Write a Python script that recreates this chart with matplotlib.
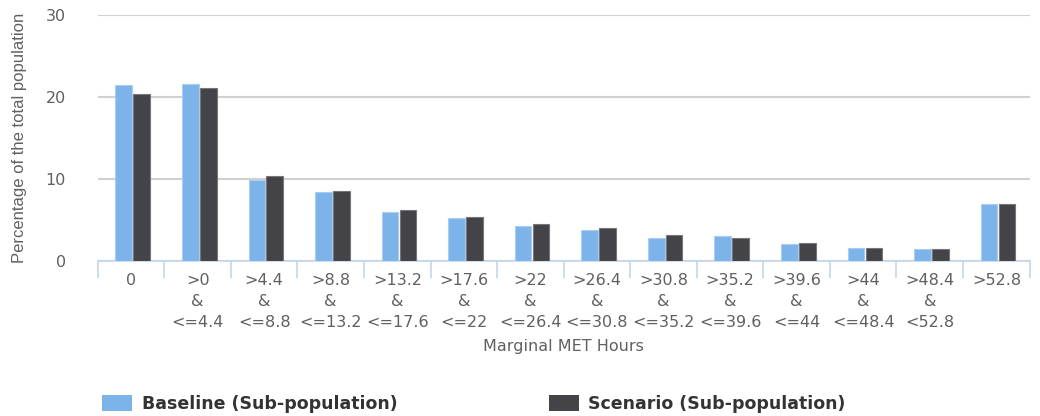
import numpy as np
import matplotlib.pyplot as plt
from matplotlib.patches import Patch

plt.rcParams['font.family'] = ['DejaVu Sans']

categories = ['0', '>0\n&\n<=4.4', '>4.4\n&\n<=8.8', '>8.8\n&\n<=13.2', '>13.2\n&\n<=17.6',
              '>17.6\n&\n<=22', '>22\n&\n<=26.4', '>26.4\n&\n<=30.8', '>30.8\n&\n<=35.2',
              '>35.2\n&\n<=39.6', '>39.6\n&\n<=44', '>44\n&\n<=48.4', '>48.4\n&\n<52.8', '>52.8']
baseline = [21.4, 21.6, 9.9, 8.4, 5.9, 5.2, 4.3, 3.8, 2.8, 3.0, 2.1, 1.6, 1.5, 6.9]
scenario = [20.4, 21.1, 10.3, 8.5, 6.2, 5.3, 4.5, 4.0, 3.1, 2.8, 2.2, 1.6, 1.5, 6.9]
yticks = [0, 10, 20, 30]

blue = '#7cb4ea'
dark = '#434348'
text_col = '#606060'

fig = plt.figure(figsize=(10.4, 4.16), dpi=100)
ax = fig.add_axes([0.094, 0.373, 0.896, 0.591])

x = np.arange(len(categories))
w = 0.25
ax.bar(x - 0.11, baseline, w, color=blue, edgecolor='#a9cdf2', linewidth=0.8, zorder=3)
ax.bar(x + 0.16, scenario, w, color=dark, edgecolor='#77777b', linewidth=0.8, zorder=3)

ax.set_xlim(-0.5, len(categories) - 0.5)
ax.set_ylim(0, 30)
ax.set_yticks(yticks)
ax.yaxis.grid(True, color='#d0d0d0', linewidth=1.5, zorder=0)
ax.tick_params(axis='y', length=0, pad=23, labelsize=11.5, labelcolor=text_col)

ax.set_xticks(x)
ax.set_xticklabels(categories, linespacing=1.5)
ax.set_xticks(np.arange(-0.5, len(categories), 1), minor=True)
ax.tick_params(axis='x', which='major', length=0, pad=9, labelsize=11.5, labelcolor=text_col)
ax.tick_params(axis='x', which='minor', length=12, width=1.2, color='#c6d6e8')

for s in ['top', 'right', 'left']:
    ax.spines[s].set_visible(False)
ax.spines['bottom'].set_color('#c6d6e8')
ax.spines['bottom'].set_linewidth(1.2)

ax.set_xlabel('Marginal MET Hours', fontsize=11.5, color=text_col, labelpad=6)
ax.set_ylabel('Percentage of the total population', fontsize=12, color=text_col,
              family='Liberation Sans')
ax.yaxis.set_label_coords(-0.076, 0.5)

handles = [Patch(facecolor=blue, edgecolor='none'), Patch(facecolor=dark, edgecolor='none')]
leg = fig.legend(handles, ['Baseline (Sub-population)', 'Scenario (Sub-population)'],
                 loc='lower left', bbox_to_anchor=(0.083, -0.03), ncol=2, frameon=False,
                 handlelength=1.75, handleheight=1.1, handletextpad=0.55, columnspacing=8.7,
                 prop={'weight': 'bold', 'size': 12.5})
for t in leg.get_texts():
    t.set_color('#333333')

fig.savefig('out.png', dpi=100)
